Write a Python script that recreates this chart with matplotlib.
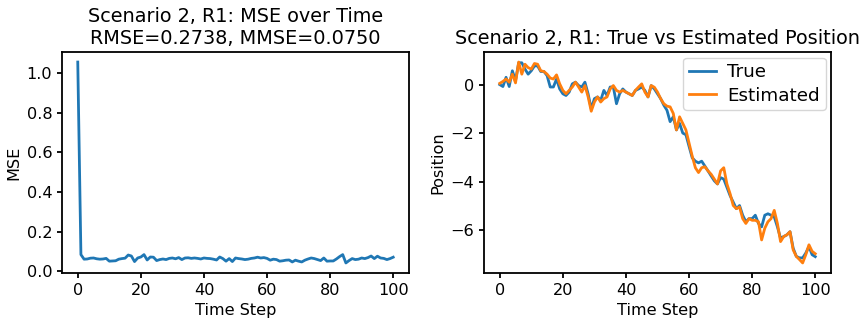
import matplotlib
matplotlib.use("Agg")
import matplotlib.pyplot as plt
import numpy as np

time_steps = list(range(101))

mse = [1.055, 0.085, 0.062, 0.063, 0.067, 0.068, 0.064, 0.062, 0.063, 0.066,
       0.052, 0.053, 0.054, 0.062, 0.065, 0.067, 0.083, 0.078, 0.050, 0.068,
       0.073, 0.085, 0.058, 0.073, 0.072, 0.055, 0.060, 0.063, 0.060, 0.066,
       0.068, 0.064, 0.070, 0.060, 0.068, 0.069, 0.066, 0.068, 0.066, 0.063,
       0.068, 0.066, 0.065, 0.062, 0.058, 0.073, 0.065, 0.052, 0.065, 0.050,
       0.068, 0.065, 0.063, 0.060, 0.062, 0.066, 0.068, 0.072, 0.068, 0.070,
       0.066, 0.057, 0.062, 0.060, 0.052, 0.054, 0.057, 0.058, 0.048, 0.057,
       0.052, 0.048, 0.057, 0.063, 0.068, 0.065, 0.060, 0.055, 0.068, 0.052,
       0.053, 0.053, 0.063, 0.075, 0.085, 0.043, 0.055, 0.065, 0.060, 0.062,
       0.068, 0.065, 0.070, 0.078, 0.065, 0.077, 0.068, 0.066, 0.060, 0.065,
       0.072]

true_pos = [0.00, -0.08, 0.30, -0.08, 0.57, 0.16, 0.90, 0.90, 0.64, 0.43,
            0.57, 0.77, 0.77, 0.54, 0.54, 0.37, -0.10, -0.10, 0.23, -0.18,
            -0.38, -0.45, -0.31, 0.03, 0.10, -0.04, -0.10, 0.10, -0.38, -1.00,
            -0.58, -0.51, -0.65, -0.24, -0.45, -0.10, -0.10, -0.79, -0.38, -0.18,
            -0.31, -0.38, -0.45, -0.24, -0.18, -0.10, -0.24, -0.51, -0.04, -0.18,
            -0.38, -0.58, -0.85, -1.06, -1.53, -1.33, -1.87, -1.60, -2.00, -2.07,
            -2.55, -3.02, -3.16, -3.23, -3.16, -3.36, -3.56, -3.77, -3.97, -4.10,
            -3.84, -3.90, -4.24, -4.58, -4.85, -5.12, -4.99, -5.39, -5.66, -5.53,
            -5.53, -5.39, -5.73, -5.87, -5.39, -5.33, -5.39, -5.46, -5.87, -6.34,
            -6.27, -6.20, -6.07, -6.75, -7.09, -7.15, -7.15, -6.95, -6.68, -7.02,
            -7.10]

est_pos = [0.05, 0.13, 0.23, 0.10, 0.43, 0.07, 0.93, 0.43, 0.84, 0.70,
           0.64, 0.87, 0.84, 0.57, 0.54, 0.43, 0.27, 0.23, 0.40, 0.03,
           -0.24, -0.38, -0.24, -0.10, 0.10, -0.10, -0.31, -0.04, -0.50, -1.10,
           -0.72, -0.51, -0.72, -0.58, -0.51, -0.18, -0.04, -0.24, -0.31, -0.24,
           -0.31, -0.38, -0.45, -0.24, -0.10, 0.03, -0.31, -0.51, -0.04, -0.11,
           -0.31, -0.58, -0.79, -0.89, -0.92, -1.19, -1.87, -1.33, -1.60, -1.87,
           -2.41, -2.95, -3.43, -3.63, -3.43, -3.39, -3.56, -3.70, -3.90, -4.10,
           -3.56, -3.43, -4.10, -4.50, -4.99, -5.12, -5.05, -5.53, -5.73, -5.53,
           -5.60, -5.60, -5.66, -6.41, -5.93, -5.66, -5.53, -5.19, -5.73, -6.48,
           -6.27, -6.20, -6.07, -6.82, -7.09, -7.22, -7.36, -7.02, -6.61, -6.88,
           -6.98]

left_title = "Scenario 2, R1: MSE over Time\nRMSE=0.2738, MMSE=0.0750"
right_title = "Scenario 2, R1: True vs Estimated Position"

plt.rcParams['font.family'] = ['DejaVu Sans']
plt.rcParams['axes.linewidth'] = 1.3
plt.rcParams['xtick.major.width'] = 1.3
plt.rcParams['ytick.major.width'] = 1.3

fig = plt.figure(figsize=(8.61, 3.23), dpi=100)
ax1 = fig.add_axes([0.0720, 0.1548, 0.4030, 0.6842])
ax2 = fig.add_axes([0.5621, 0.1548, 0.4031, 0.6842])

lw = 2.0
ax1.plot(time_steps, mse, color='#1f77b4', linewidth=lw)
ax1.set_title(left_title, fontsize=13.9)
ax1.set_xlabel("Time Step", fontsize=11.6)
ax1.set_ylabel("MSE", fontsize=11.6)
ax1.tick_params(labelsize=11.6)

ax2.plot(time_steps, true_pos, color='#1f77b4', linewidth=lw, label='True')
ax2.plot(time_steps, est_pos, color='#ff7f0e', linewidth=lw, label='Estimated')
ax2.set_title(right_title, fontsize=13.9)
ax2.set_xlabel("Time Step", fontsize=11.6)
ax2.set_ylabel("Position", fontsize=11.6)
ax2.tick_params(labelsize=11.6)
ax2.legend(loc='upper right', fontsize=13.2, labelspacing=0.3,
           borderpad=0.3, handlelength=1.5, handletextpad=0.6,
           borderaxespad=0.3)

fig.savefig("out.png", dpi=100)
